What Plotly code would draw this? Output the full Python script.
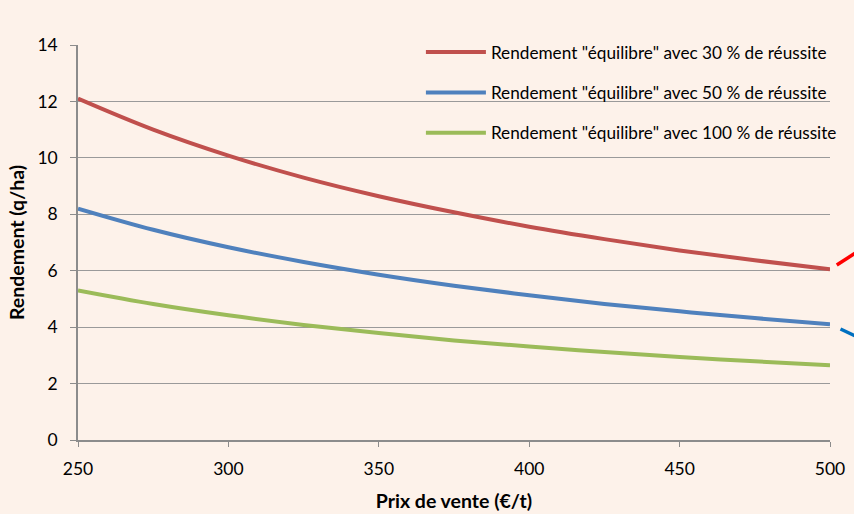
import plotly.graph_objects as go

prix = [250, 275, 300, 325, 350, 375, 400, 425, 450, 475, 500]
rdt_30 = [12.1, 11.0, 10.08, 9.3, 8.64, 8.07, 7.56, 7.12, 6.72, 6.37, 6.05]
rdt_50 = [8.2, 7.45, 6.83, 6.31, 5.86, 5.47, 5.13, 4.82, 4.56, 4.32, 4.1]
rdt_100 = [5.3, 4.82, 4.42, 4.08, 3.79, 3.53, 3.31, 3.12, 2.94, 2.79, 2.65]
noms = ['Rendement "équilibre" avec 30 % de réussite',
        'Rendement "équilibre" avec 50 % de réussite',
        'Rendement "équilibre" avec 100 % de réussite']
couleurs = ["#C0504D", "#4F81BD", "#9BBB59"]

bg = "#FDF2EA"
font = "Lato, Carlito, 'Open Sans', sans-serif"

fig = go.Figure()
for i, (vals, nom, c) in enumerate(zip([rdt_30, rdt_50, rdt_100], noms, couleurs)):
    fig.add_trace(go.Scatter(x=prix, y=vals, mode="lines", name=nom,
                             legendgroup=f"g{i}",
                             line=dict(color=c, width=4, shape="spline")))

fig.update_layout(
    width=854, height=514,
    margin=dict(l=78, r=24, t=45, b=74, autoexpand=False),
    paper_bgcolor=bg, plot_bgcolor=bg,
    font=dict(family=font, color="#000000", size=17),
    showlegend=True,
    legend=dict(x=0.456, y=1.027, xanchor="left", yanchor="top",
                bgcolor="rgba(0,0,0,0)", font=dict(size=17.2),
                itemwidth=60, traceorder="grouped", tracegroupgap=15),
    xaxis=dict(range=[250, 500], tickvals=[250, 300, 350, 400, 450, 500],
               showgrid=False, showline=True, linecolor="#8C8C8C", linewidth=1.5,
               ticks="outside", ticklen=5, tickcolor="#8C8C8C", zeroline=False,
               tickfont=dict(size=17.5), ticklabelstandoff=7, automargin=False,
               title=dict(text="<b>Prix de vente (€/t)</b>", font=dict(size=19.5), standoff=17)),
    yaxis=dict(range=[0, 14], tickvals=list(range(0, 15, 2)),
               showgrid=True, gridcolor="#9A9A9A", gridwidth=1.3,
               showline=True, linecolor="#8C8C8C", linewidth=1.5,
               ticks="outside", ticklen=6, tickcolor="#8C8C8C", zeroline=False,
               tickfont=dict(size=17.5), ticklabelstandoff=9, automargin=False,
               title=dict(text="<b>Rendement (q/ha)</b>", font=dict(size=19.5), standoff=8)),
    shapes=[
        dict(type="line", xref="paper", yref="paper", x0=1.009, y0=0.443, x1=1.035, y1=0.475,
             line=dict(color="#FF0000", width=3.5)),
        dict(type="line", xref="paper", yref="paper", x0=1.014, y0=0.281, x1=1.035, y1=0.262,
             line=dict(color="#0070C0", width=3.5)),
    ],
)

fig.write_html("out.html", config={"displayModeBar": False, "responsive": False},
               post_script="document.body.style.margin='0';document.body.style.background='#FDF2EA';")
